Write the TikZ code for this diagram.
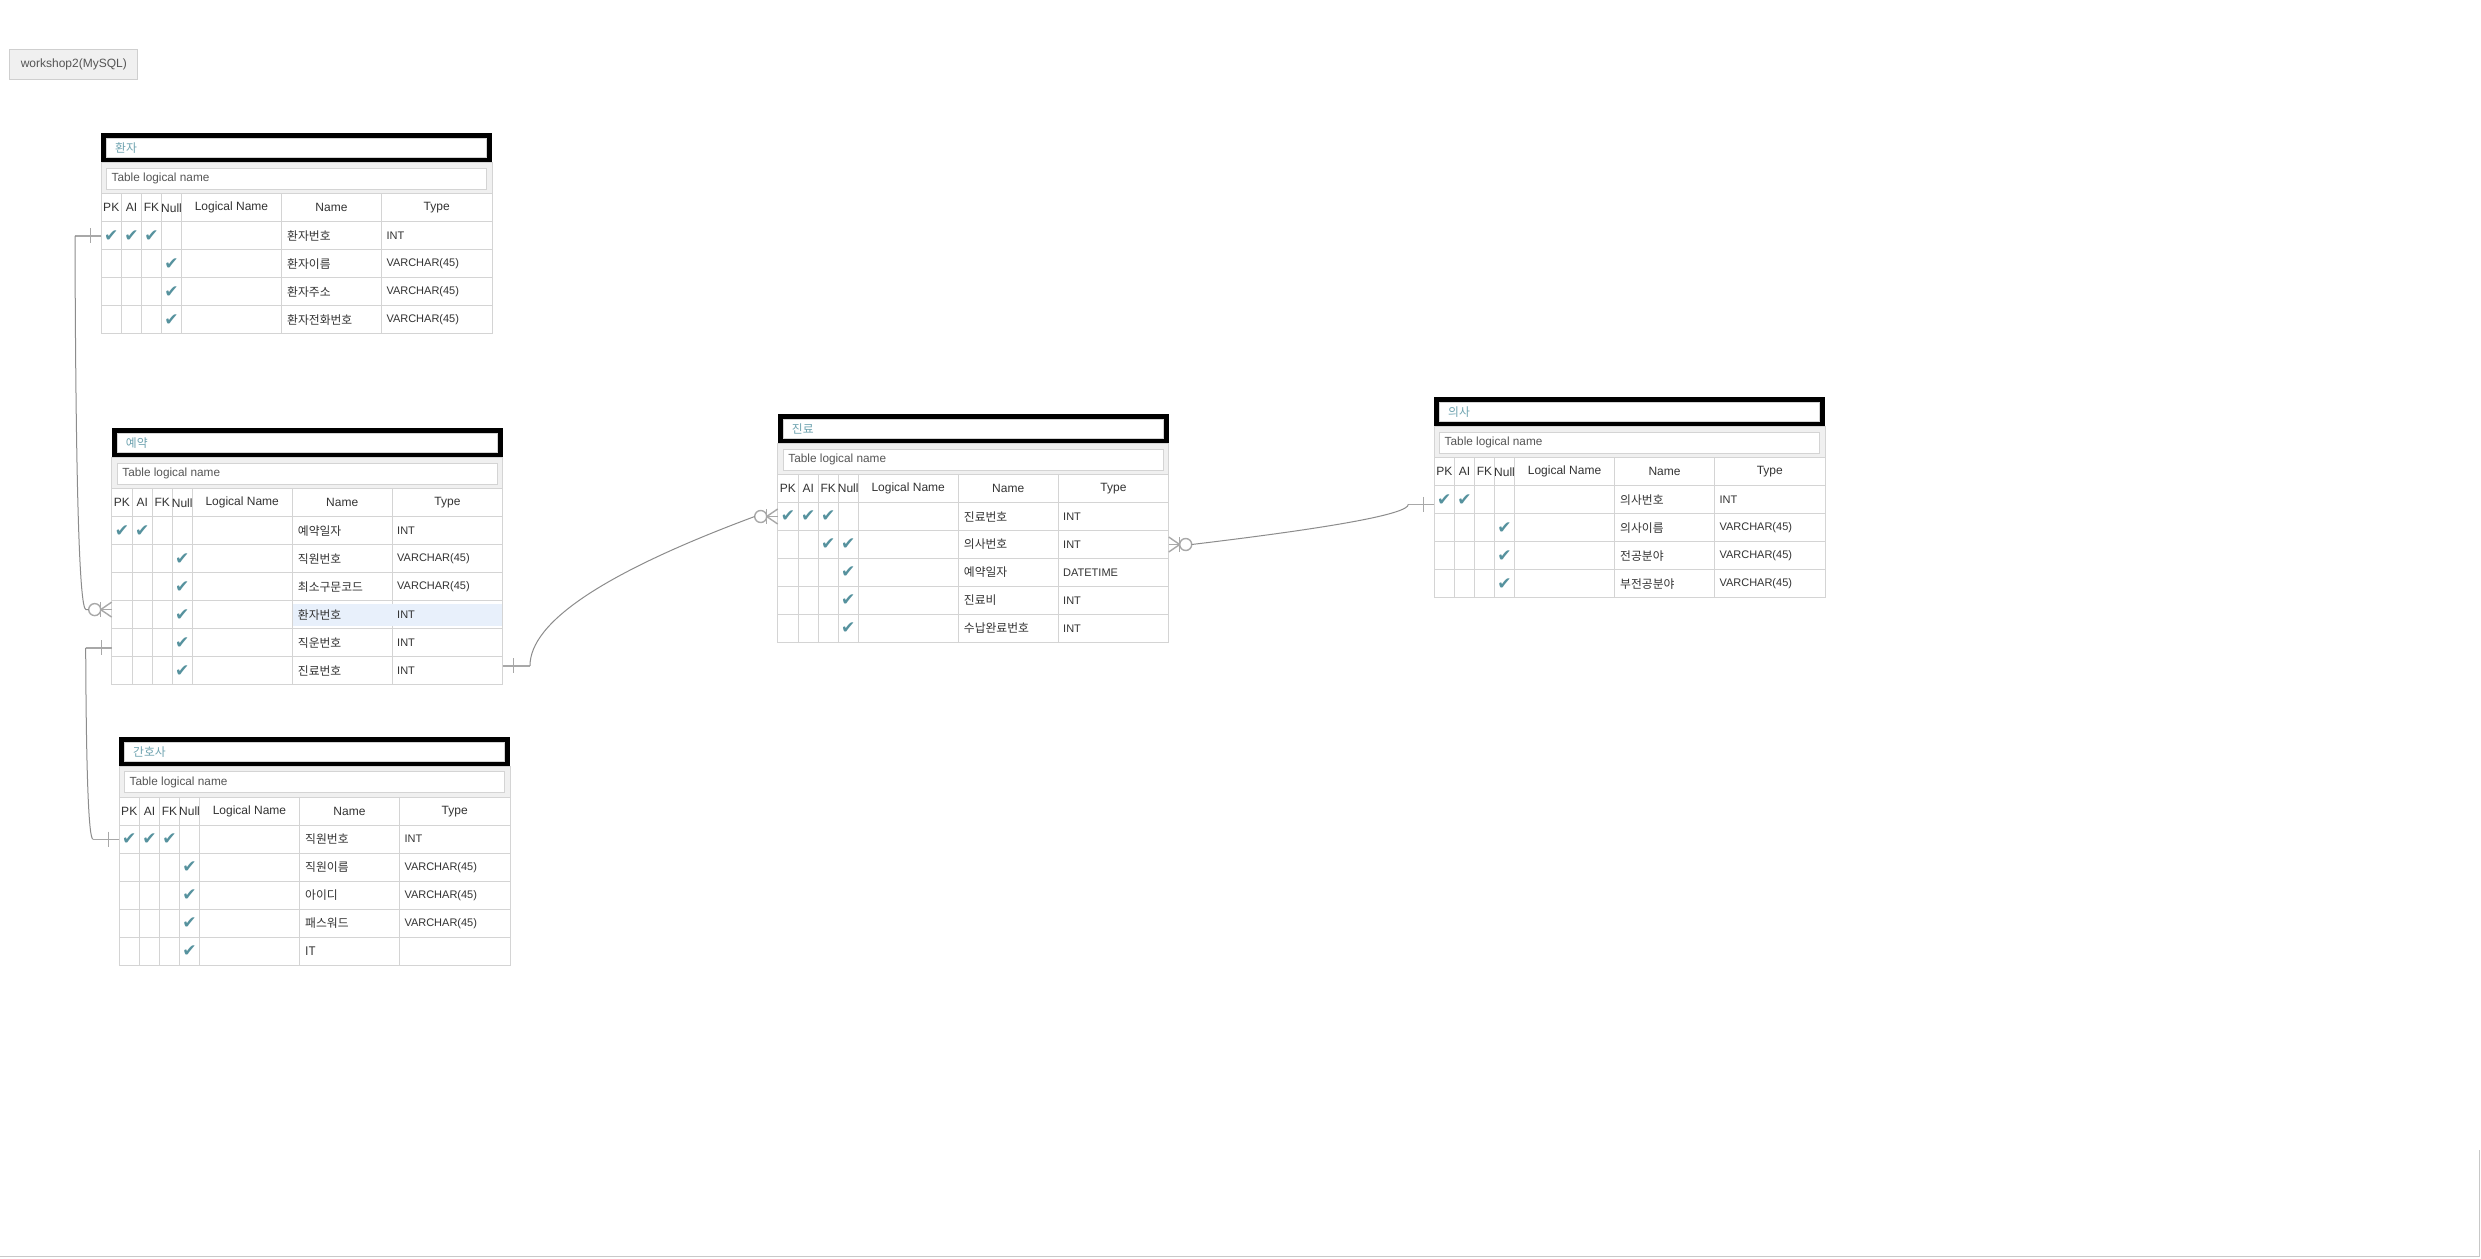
\documentclass[tikz,border=0pt]{standalone}
\usepackage{fontspec}
\setmainfont{Liberation Sans}
\newfontfamily\krfont{Noto Sans CJK KR}
\newfontfamily\symfont{DejaVu Sans}
\usetikzlibrary{calc}

\definecolor{gridc}{RGB}{212,212,212}
\definecolor{bandc}{RGB}{240,240,240}
\definecolor{tealtxt}{RGB}{110,163,176}
\definecolor{checkc}{RGB}{86,146,158}
\definecolor{txt}{RGB}{51,51,51}
\definecolor{subtxt}{RGB}{85,85,85}
\definecolor{hlc}{RGB}{232,240,251}
\definecolor{stubc}{RGB}{168,168,168}
\definecolor{curvec}{RGB}{140,140,140}
\definecolor{btnfill}{RGB}{240,240,240}
\definecolor{btnline}{RGB}{207,207,207}
\definecolor{framec}{RGB}{200,200,200}

\tikzset{
  gridline/.style={draw=gridc, line width=1pt},
  hdr/.style={inner sep=0pt, text=txt, font=\fontsize{12}{14}\selectfont},
  cell/.style={inner sep=0pt, anchor=west, text=txt, font=\fontsize{11}{13}\selectfont},
  krcell/.style={inner sep=0pt, anchor=west, text=txt, font=\krfont\fontsize{11.8}{13}\selectfont},
  chk/.style={inner sep=0pt, text=checkc, font=\symfont\fontsize{17}{18}\selectfont},
  stub/.style={draw=stubc, line width=1.4pt},
  link/.style={draw=curvec, line width=1pt},
}

% #1 id, #2 origin, #3 title, #4 number of rows, #5 rows pk/ai/fk/null/name/type/highlight
\newcommand\erdtable[5]{%
\begin{scope}[shift={#2}]
  \pgfmathsetmacro\erdbot{88.5+28*#4}
  % logical-name band
  \fill[bandc] (0,29.5) rectangle (391,60.5);
  \draw[gridline, fill=white] (5.5,35) rectangle (385.5,56);
  \node[anchor=west, inner sep=0pt, text=subtxt, font=\fontsize{11.8}{14}\selectfont] (#1-logical) at (10.5,45.5) {Table logical name};
  % title box
  \fill[white] (0,0) rectangle (391,29.5);
  \draw[black, line width=5pt] (2.5,2.5) rectangle (388.5,27);
  \draw[gridline] (5.5,5.5) rectangle (385.5,24.5);
  \node[anchor=west, inner sep=0pt, text=tealtxt, font=\krfont\fontsize{11.8}{13}\selectfont] (#1-title) at (14,15) {#3};
  % column grid and header
  \draw[gridline] (0,29.5) rectangle (391,\erdbot);
  \draw[gridline] (0,60.5) -- (391,60.5);
  \foreach \cx in {20.5,40.5,60.5,80.5,180.5,280.5}{\draw[gridline] (\cx,60.5) -- (\cx,\erdbot);}
  \foreach \lab/\cx [count=\j] in {PK/10.25,AI/30.5,FK/50.5,Null/70.5,Logical Name/130.5,Name/230.5,Type/335.75}{%
    \node[hdr] (#1-h\j) at (\cx,74.5) {\lab};}
  % rows
  \foreach \cpk/\cai/\cfk/\cnn/\cnm/\cty/\chl [count=\i] in {#5}{%
    \pgfmathsetmacro\erdrt{88.5+28*(\i-1)}
    \pgfmathsetmacro\erdrc{\erdrt+14}
    \draw[gridline] (0,\erdrt) -- (391,\erdrt);
    \ifnum\chl=1 \fill[hlc] (181.5,\erdrt+3.3) rectangle (390,\erdrt+25.3);\fi
    \ifnum\cpk=1 \node[chk] (#1-r\i-pk) at (10.25,\erdrc) {✔};\fi
    \ifnum\cai=1 \node[chk] (#1-r\i-ai) at (30.5,\erdrc) {✔};\fi
    \ifnum\cfk=1 \node[chk] (#1-r\i-fk) at (50.5,\erdrc) {✔};\fi
    \ifnum\cnn=1 \node[chk] (#1-r\i-nn) at (70.5,\erdrc) {✔};\fi
    \node[krcell] (#1-r\i-name) at (186,\erdrc) {\cnm};
    \node[cell] (#1-r\i-type) at (285.3,\erdrc) {\cty};
    \coordinate (#1-r\i-l) at (0,\erdrc);
    \coordinate (#1-r\i-r) at (391,\erdrc);
  }
\end{scope}}

% single bar of a "one" end; #1 edge point, #2 side (-1 left, 1 right)
\newcommand\onebar[2]{\draw[stub] ($(#1)+(#2*10.5,-7.5)$) -- ++(0,15);}
% circle + crow's foot of a "zero or many" end
\newcommand\manymark[2]{%
  \draw[stub] ($(#1)+(#2*11,0)$) -- ($(#1)+(0,-7.5)$);
  \draw[stub] ($(#1)+(#2*11,0)$) -- ($(#1)+(0,7.5)$);
  \draw[stub] ($(#1)+(#2*11,0)$) -- (#1);
  \draw[stub] ($(#1)+(#2*11,-7.5)$) -- ++(0,15);
  \draw[stub] ($(#1)+(#2*17,0)$) circle[radius=6pt];}

\begin{document}
\begin{tikzpicture}[x=1pt, y=-1pt]
  \useasboundingbox (0,0) rectangle (2481,1258);
  \fill[white] (0,0) rectangle (2481,1258);
  \draw[framec, line width=1.5pt] (0,1256.5) -- (2479.5,1256.5) -- (2479.5,1150);

  \node[draw=btnline, fill=btnfill, line width=1pt, minimum width=127.7pt, minimum height=29.3pt,
        inner sep=0pt, text=subtxt, font=\fontsize{12}{14}\selectfont] (db) at (73.8,64.6) {workshop2(MySQL)};

  \erdtable{hj}{(101,133.3)}{환자}{4}{%
    1/1/1/0/환자번호/INT/0,
    0/0/0/1/환자이름/VARCHAR(45)/0,
    0/0/0/1/환자주소/VARCHAR(45)/0,
    0/0/0/1/환자전화번호/VARCHAR(45)/0}

  \erdtable{yy}{(111.7,428.3)}{예약}{6}{%
    1/1/0/0/예약일자/INT/0,
    0/0/0/1/직원번호/VARCHAR(45)/0,
    0/0/0/1/최소구문코드/VARCHAR(45)/0,
    0/0/0/1/환자번호/INT/1,
    0/0/0/1/직운번호/INT/0,
    0/0/0/1/진료번호/INT/0}

  \erdtable{gh}{(119,736.7)}{간호사}{5}{%
    1/1/1/0/직원번호/INT/0,
    0/0/0/1/직원이름/VARCHAR(45)/0,
    0/0/0/1/아이디/VARCHAR(45)/0,
    0/0/0/1/패스워드/VARCHAR(45)/0,
    0/0/0/1/IT/{}/0}

  \erdtable{jr}{(777.7,414)}{진료}{5}{%
    1/1/1/0/진료번호/INT/0,
    0/0/1/1/의사번호/INT/0,
    0/0/0/1/예약일자/DATETIME/0,
    0/0/0/1/진료비/INT/0,
    0/0/0/1/수납완료번호/INT/0}

  \erdtable{us}{(1434,397.3)}{의사}{4}{%
    1/1/0/0/의사번호/INT/0,
    0/0/0/1/의사이름/VARCHAR(45)/0,
    0/0/0/1/전공분야/VARCHAR(45)/0,
    0/0/0/1/부전공분야/VARCHAR(45)/0}

  % 환자 -> 예약
  \coordinate (e1) at ($(yy-r4-l)+(0,-5.2)$);
  \draw[stub] (hj-r1-l) -- ++(-26,0) coordinate (c1s);
  \onebar{hj-r1-l}{-1}
  \manymark{e1}{-1}
  \coordinate (c1e) at ($(e1)+(-25.7,0)$);
  \draw[link] (c1s) .. controls +(0.7,249.2) and +(-6.7,0) .. (c1e) -- ($(e1)+(-23,0)$);

  % 예약 -> 간호사
  \coordinate (e2) at ($(yy-r5-l)+(0,5)$);
  \draw[stub] (e2) -- ++(-26,0) coordinate (c2s);
  \onebar{e2}{-1}
  \draw[stub] (gh-r1-l) -- ++(-26,0) coordinate (c2e);
  \onebar{gh-r1-l}{-1}
  \draw[link] (c2s) .. controls +(0.5,127.6) and +(-4.3,0) .. (c2e);

  % 예약 -> 진료
  \coordinate (e3) at ($(yy-r6-r)+(0,-5)$);
  \draw[stub] (e3) -- ++(27.3,0) coordinate (c3s);
  \onebar{e3}{1}
  \manymark{jr-r1-l}{-1}
  \coordinate (c3e) at ($(jr-r1-l)+(-23,0)$);
  \draw[link] (c3s) .. controls +(0,-43.9) and +(-149.8,55.7) .. (c3e);

  % 진료 -> 의사
  \manymark{jr-r2-r}{1}
  \coordinate (c4s) at ($(jr-r2-r)+(23,0)$);
  \coordinate (e4) at ($(us-r1-l)+(0,4.6)$);
  \draw[stub] (e4) -- ++(-25.7,0) coordinate (c4e);
  \onebar{e4}{-1}
  \draw[link] (c4s) .. controls +(144.4,-17.3) and +(0,9.4) .. (c4e);
\end{tikzpicture}
\end{document}
